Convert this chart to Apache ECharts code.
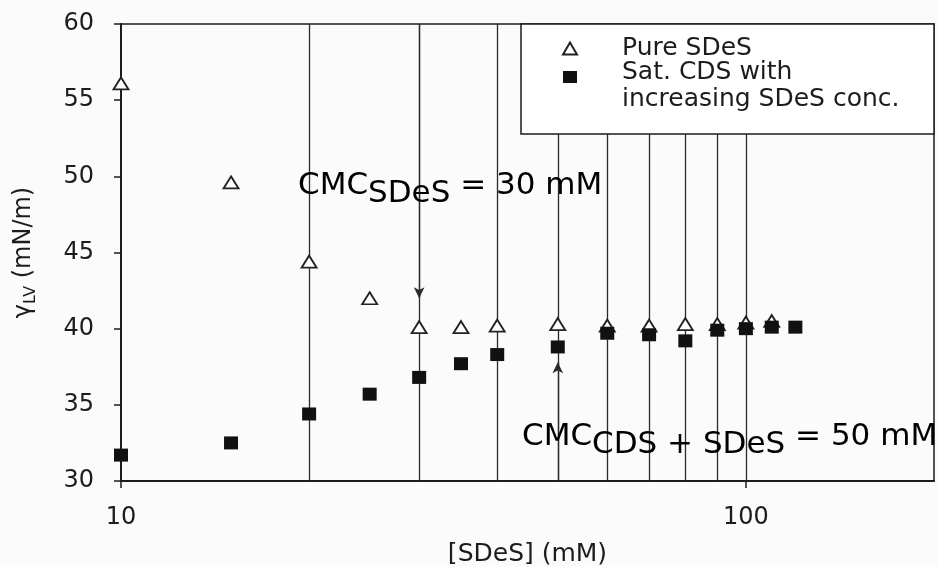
<!DOCTYPE html>
<html>
<head>
<meta charset="utf-8">
<script src="https://cdn.jsdelivr.net/npm/echarts@6/dist/echarts.min.js"></script>
<style>
    html, body { margin: 0; padding: 0; background: #fbfbfb; }
    #chart { width: 939px; height: 567px; }
</style>
</head>
<body>
<div id="chart"></div>
<script>
// surface tension vs [SDeS]
const pureConc = [10, 15, 20, 25, 30, 35, 40, 50, 60, 70, 80, 90, 100, 110];
const pureSDeS = [56.1, 49.6, 44.4, 42.0, 40.1, 40.1, 40.2, 40.3, 40.2, 40.2, 40.3, 40.3, 40.4, 40.5];
const satConc = [10, 15, 20, 25, 30, 35, 40, 50, 60, 70, 80, 90, 100, 110, 120];
const satCDS = [31.7, 32.5, 34.4, 35.7, 36.8, 37.7, 38.3, 38.8, 39.7, 39.6, 39.2, 39.9, 40.0, 40.1, 40.1];
const dropLines = [20, 30, 40, 50, 60, 70, 80, 90, 100];
const xTicks = [10, 100];
const yMin = 30, yMax = 60, yStep = 5;
// CMC arrows: [x, tip]
const cmcSDeS = [30, 42.0];
const cmcMixed = [50, 37.8];

const ink = '#1c1c1c';
const font = 'DejaVu Sans';

const annoRich = {
    m: { fontSize: 31, fontFamily: font, color: ink, lineHeight: 46 },
    s: { fontSize: 31, fontFamily: font, color: ink, lineHeight: 34, verticalAlign: 'bottom' }
};

const chart = echarts.init(document.getElementById('chart'));
chart.setOption({
    backgroundColor: '#fbfbfb',
    animation: false,
    textStyle: { fontFamily: font, color: ink },
    grid: {
        left: 121, right: 5, top: 24, bottom: 86, outerBoundsMode: 'none',
        show: true, borderColor: ink, borderWidth: 1.5
    },
    xAxis: {
        type: 'log', logBase: 10, min: 10, max: 200,
        axisLine: { lineStyle: { color: ink, width: 2 } },
        axisTick: { show: true, length: 7, customValues: xTicks, lineStyle: { color: ink, width: 1.5 } },
        axisLabel: { customValues: xTicks, fontSize: 24, color: ink, margin: 25, fontFamily: font },
        minorTick: { show: false },
        splitLine: { show: false },
        name: '[SDeS] (mM)', nameLocation: 'middle', nameGap: 61,
        nameTextStyle: { fontSize: 25, color: ink, fontFamily: font }
    },
    yAxis: {
        type: 'value', min: yMin, max: yMax, interval: yStep,
        axisLine: { show: true, lineStyle: { color: ink, width: 2 } },
        axisTick: { show: true, length: 7, lineStyle: { color: ink, width: 1.5 } },
        axisLabel: { fontSize: 24, color: ink, margin: 27, fontFamily: font },
        splitLine: { show: false },
        name: '{g|γ}{s|LV}{g| (mN/m)}', nameLocation: 'middle', nameGap: 82, nameRotate: 90,
        nameTextStyle: {
            rich: {
                g: { fontSize: 24, fontFamily: font, color: ink, lineHeight: 30 },
                s: { fontSize: 16, fontFamily: font, color: ink, lineHeight: 20, verticalAlign: 'bottom' }
            }
        }
    },
    legend: {
        orient: 'vertical', left: 562, top: 36, padding: 0, z: 10,
        itemWidth: 14, itemHeight: 12, itemGap: -16,
        selectedMode: false,
        formatter: name => name.indexOf('\n') < 0 ? '{t|' + name + '}'
            : '{sp| }\n' + name.split('\n').map(s => '{t|' + s + '}').join('\n'),
        textStyle: {
            color: ink, fontFamily: font, padding: [0, 0, 0, 40],
            rich: {
                t: { fontSize: 25, fontFamily: font, color: ink, lineHeight: 27 },
                sp: { fontSize: 10, lineHeight: 17 }
            }
        }
    },
    graphic: [
        { type: 'rect', z: 8, shape: { x: 521, y: 24, width: 413, height: 110 },
          style: { fill: '#fff', stroke: ink, lineWidth: 1.5 } },
        { type: 'text', z: 9, x: 298, y: 186,
          style: { text: '{m|CMC}{s|SDeS}{m| = 30 mM}', rich: annoRich, verticalAlign: 'middle' } },
        { type: 'text', z: 9, x: 522, y: 437,
          style: { text: '{m|CMC}{s|CDS + SDeS}{m| = 50 mM}', rich: annoRich, verticalAlign: 'middle' } }
    ],
    series: [
        {
            name: 'Pure SDeS', type: 'scatter', z: 3,
            symbol: 'triangle', symbolSize: [15, 12],
            itemStyle: { color: '#fff', borderColor: '#222', borderWidth: 1.8, opacity: 1 },
            data: pureConc.map((x, i) => [x, pureSDeS[i]]),
            markLine: {
                silent: true, z: 1, symbol: 'none', animation: false,
                label: { show: false },
                lineStyle: { color: '#2a2a2a', width: 1.3, type: 'solid' },
                data: dropLines.map(x => [{ coord: [x, yMax] }, { coord: [x, yMin] }]).concat([
                    [{ coord: [cmcSDeS[0], yMax], symbol: 'none' }, { coord: cmcSDeS, symbol: 'arrow', symbolSize: [8, 11] }],
                    [{ coord: [cmcMixed[0], yMin], symbol: 'none' }, { coord: cmcMixed, symbol: 'arrow', symbolSize: [8, 11] }]
                ])
            }
        },
        {
            name: 'Sat. CDS with\nincreasing SDeS conc.', type: 'scatter', z: 4,
            symbol: 'rect', symbolSize: [14, 13],
            itemStyle: { color: '#111', opacity: 1 },
            data: satConc.map((x, i) => [x, satCDS[i]])
        }
    ]
});
</script>
</body>
</html>
